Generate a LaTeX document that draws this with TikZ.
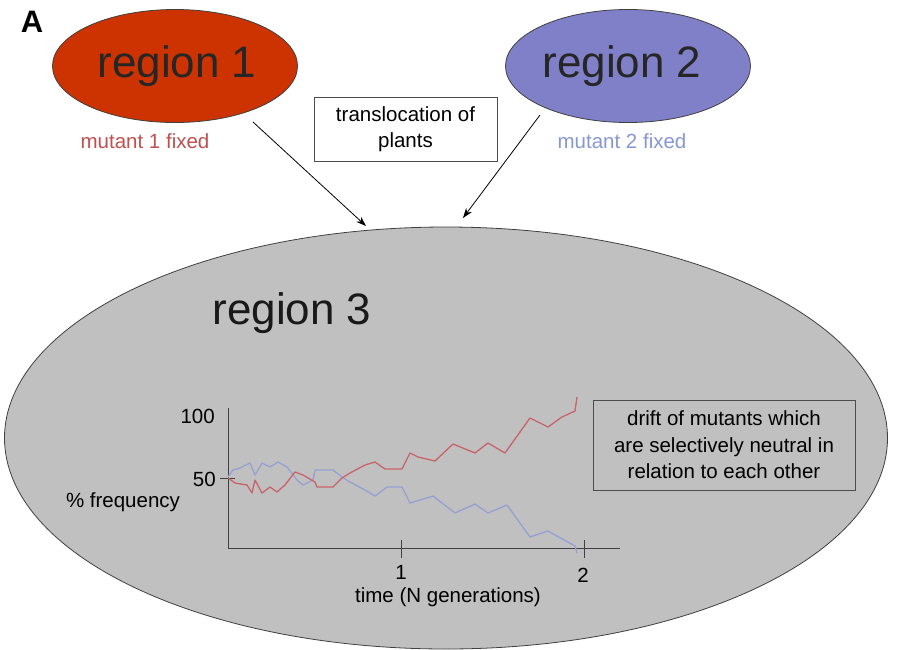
\documentclass[tikz,border=0pt]{standalone}
\usepackage{fontspec}
\setmainfont{Liberation Sans}
\usetikzlibrary{shapes.geometric,arrows.meta}
\definecolor{rOne}{RGB}{204,51,0}
\definecolor{rTwo}{RGB}{128,128,200}
\definecolor{rThree}{RGB}{192,192,192}
\definecolor{mutRed}{RGB}{192,80,80}
\definecolor{mutBlue}{RGB}{136,152,208}
\definecolor{lineRed}{RGB}{200,100,105}
\definecolor{lineBlue}{RGB}{150,160,212}
\tikzset{
  region/.style={ellipse, draw=black!75, line width=0.8pt, inner sep=0pt,
    font=\fontsize{44}{50}\selectfont},
  small/.style={font=\fontsize{20.5}{26}\selectfont, inner sep=0pt},
  boxed/.style={draw=black!70, line width=0.9pt, align=center,
    font=\fontsize{20.5}{26.5}\selectfont, inner sep=0pt},
  arr/.style={-{Stealth[length=10pt,width=7pt]}, line width=0.8pt},
  axis/.style={line width=1pt, black!75},
  drift/.style={line width=1.3pt, line join=round}
}
\begin{document}
\begin{tikzpicture}[x=1pt,y=-1pt]
\useasboundingbox[fill=white] (0,0) rectangle (914,649);
% region 3
\node[region, fill=rThree, minimum width=883pt, minimum height=422pt] (r3) at (446,438) {};
\node[font=\fontsize{44}{50}\selectfont, inner sep=0pt, text=black!90] (r3t) at (292,313) {region 3};
% region 1 and 2
\node[region, fill=rOne, minimum width=245pt, minimum height=113pt] (r1) at (175,66) {};
\node[font=\fontsize{44}{50}\selectfont, inner sep=0pt, text=black!85] (r1t) at (177,66) {region 1};
\node[region, fill=rTwo, minimum width=245pt, minimum height=113pt] (r2) at (628,66) {};
\node[font=\fontsize{44}{50}\selectfont, inner sep=0pt, text=black!85] (r2t) at (622,66) {region 2};
\node[font=\fontsize{31}{34}\bfseries\selectfont, inner sep=0pt] (lab) at (32,22) {A};
\node[small, text=mutRed] (m1) at (145,141) {mutant 1 fixed};
\node[small, text=mutBlue] (m2) at (622,141) {mutant 2 fixed};
% translocation box
\node[boxed, minimum width=183pt, minimum height=64pt] (tr) at (405.5,129) {translocation of\\plants};
% arrows
\coordinate (s1) at (253,122);
\coordinate (e1) at (366,226);
\coordinate (s2) at (540,115);
\coordinate (e2) at (463,218);
\draw[arr] (s1) -- (e1);
\draw[arr] (s2) -- (e2);
% drift box
\node[boxed, minimum width=262pt, minimum height=90pt] (dr) at (724,445) {drift of mutants which\\are selectively neutral in\\relation to each other};
% plot axes
\coordinate (o) at (228,548);
\coordinate (ytop) at (228,408);
\coordinate (xend) at (620,548);
\draw[axis] (ytop) -- (o) -- (xend);
\draw[axis] (220,478) -- (235,478);
\draw[axis] (401,540) -- (401,558);
\draw[axis] (584,540) -- (584,558);
\node[small, anchor=east] (y100) at (215,416) {100};
\node[small, anchor=east] (y50) at (216,479) {50};
\node[small] (yl) at (123,502) {\% frequency};
\node[small] (x1) at (401,572) {1};
\node[small] (x2) at (583,575) {2};
\node[small] (xl) at (448,597) {time (N generations)};
% drift lines
\draw[drift, lineBlue] (228,477) -- (233,470) -- (240,468) -- (250,463) -- (255,475) -- (262,463) -- (270,467) -- (278,462) -- (287,467) -- (297,480) -- (303,485) -- (313,480) -- (315,470) -- (333,470) -- (342,477) -- (350,482) -- (365,490) -- (375,496) -- (387,487) -- (402,487) -- (410,503) -- (433,496) -- (455,513) -- (475,504) -- (488,513) -- (507,505) -- (530,537) -- (548,531) -- (575,546) -- (577,553);
\draw[drift, lineRed] (228,478) -- (235,483) -- (247,485) -- (252,493) -- (255,480) -- (262,493) -- (270,487) -- (277,492) -- (285,485) -- (295,472) -- (303,475) -- (315,482) -- (317,487) -- (333,487) -- (342,478) -- (350,473) -- (365,465) -- (375,462) -- (385,469) -- (402,469) -- (410,453) -- (418,457) -- (435,461) -- (453,444) -- (475,453) -- (488,443) -- (505,453) -- (530,418) -- (548,427) -- (562,417) -- (575,411) -- (577,397);
\end{tikzpicture}
\end{document}
